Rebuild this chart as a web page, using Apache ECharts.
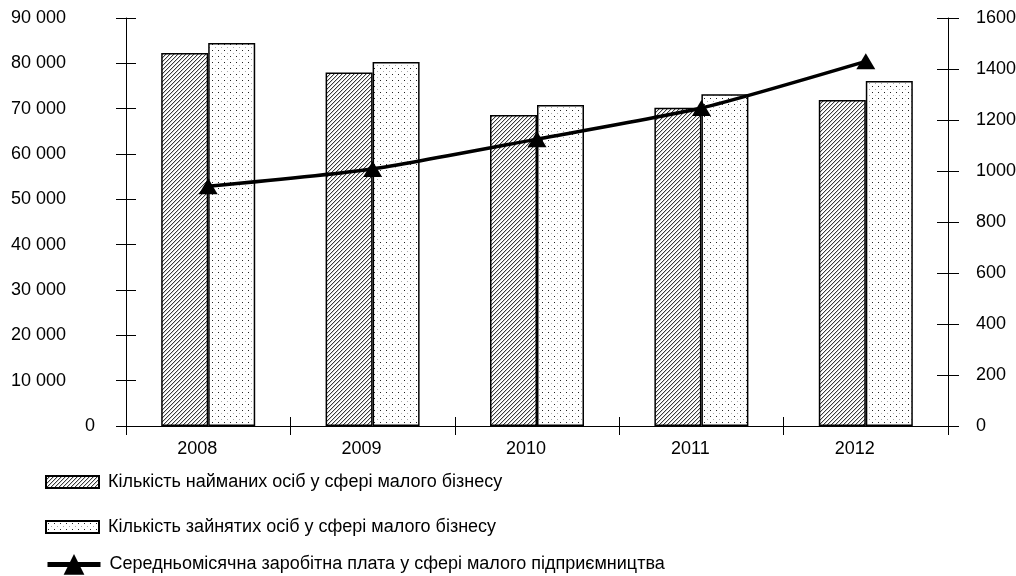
<!DOCTYPE html>
<html>
<head>
<meta charset="utf-8">
<script src="https://cdn.jsdelivr.net/npm/echarts@6/dist/echarts.min.js"></script>
<style>
html,body{margin:0;padding:0;background:#fff;}
#c{width:1016px;height:576px;}
</style>
</head>
<body>
<div id="c"></div>
<script>
// ---- data ----
const years = ['2008', '2009', '2010', '2011', '2012'];
const hiredName = 'Кількість найманих осіб у сфері малого бізнесу';
const employedName = 'Кількість зайнятих осіб у сфері малого бізнесу';
const wageName = 'Середньомісячна заробітна плата у сфері малого підприємництва';
const hired = [82300, 78000, 68600, 70200, 71900];
const employed = [84500, 80300, 70800, 73200, 76100];
const wage = [940, 1008, 1125, 1247, 1430];

// ---- patterns ----
function hatchPattern() {
  const n = 4;
  const c = document.createElement('canvas');
  c.width = n; c.height = n;
  const g = c.getContext('2d');
  g.fillStyle = '#fff'; g.fillRect(0, 0, n, n);
  for (let i = 0; i < n; i++) {
    g.fillStyle = '#3a3a3a'; g.fillRect(i, n - 1 - i, 1, 1);
    g.fillStyle = '#cfcfcf'; g.fillRect(i, (n - i) % n, 1, 1);
  }
  return { image: c, repeat: 'repeat' };
}
function dotPattern() {
  const c = document.createElement('canvas');
  c.width = 6; c.height = 6;
  const g = c.getContext('2d');
  g.fillStyle = '#fff'; g.fillRect(0, 0, 6, 6);
  g.fillStyle = '#222'; g.fillRect(2, 2, 1, 1);
  g.fillStyle = '#aaa'; g.fillRect(5, 5, 1, 1);
  return { image: c, repeat: 'repeat' };
}

const font = 'Liberation Sans, Arial, sans-serif';
const fmt = v => v === 0 ? '' : String(v).replace(/\B(?=(\d{3})+(?!\d))/g, ' ');
const legendText = { fontSize: 18, color: '#000', fontFamily: font, padding: [0, 0, 0, 4] };

const chart = echarts.init(document.getElementById('c'), null, { renderer: 'canvas' });
chart.setOption({
  animation: false,
  backgroundColor: '#fff',
  textStyle: { fontFamily: font, color: '#000' },
  grid: { left: 126, right: 68, top: 18, bottom: 150, containLabel: false, outerBoundsMode: 'none' },
  legend: [
    {
      data: [{ name: hiredName, icon: 'rect' }], left: 40, top: 468, itemWidth: 53, itemHeight: 12,
      textStyle: legendText, selectedMode: false
    },
    {
      data: [{ name: employedName, icon: 'rect' }], left: 40, top: 513, itemWidth: 53, itemHeight: 12,
      textStyle: legendText, selectedMode: false
    },
    {
      data: [{ name: wageName }], left: 40, top: 549, itemWidth: 53, itemHeight: 26,
      textStyle: legendText, selectedMode: false,
      lineStyle: { width: 5 }
    }
  ],
  xAxis: [
    {
      type: 'category', data: years, position: 'bottom',
      axisLine: { onZero: false, lineStyle: { color: '#000', width: 1 } },
      axisTick: { show: true, length: 9, lineStyle: { color: '#000' } },
      axisLabel: { fontSize: 18, color: '#000', fontFamily: font, margin: 14, padding: [0, 22, 0, 0] },
      splitLine: { show: false }
    },
    {
      type: 'category', data: years, position: 'bottom',
      axisLine: { show: false, onZero: false },
      axisTick: { show: true, inside: true, length: 9, lineStyle: { color: '#000' } },
      axisLabel: { show: false }, splitLine: { show: false }
    }
  ],
  yAxis: [
    {
      type: 'value', position: 'left', min: 0, max: 90000, interval: 10000,
      axisLine: { show: true, lineStyle: { color: '#000' } },
      axisTick: { show: true, length: 10, lineStyle: { color: '#000' } },
      axisLabel: { fontSize: 18, color: '#000', fontFamily: font, margin: 60, formatter: fmt },
      splitLine: { show: false }
    },
    {
      type: 'value', position: 'right', min: 0, max: 1600, interval: 200,
      axisLine: { show: true, lineStyle: { color: '#000' } },
      axisTick: { show: true, length: 11, lineStyle: { color: '#000' } },
      axisLabel: { fontSize: 18, color: '#000', fontFamily: font, margin: 28, formatter: v => String(v) },
      splitLine: { show: false }
    },
    {
      type: 'value', position: 'left', min: 0, max: 90000, interval: 10000,
      axisLine: { show: false },
      axisTick: { show: true, inside: true, length: 10, lineStyle: { color: '#000' } },
      axisLabel: { fontSize: 18, color: '#000', fontFamily: font, margin: 31, formatter: v => v === 0 ? '0' : '' },
      splitLine: { show: false }
    },
    {
      type: 'value', position: 'right', min: 0, max: 1600, interval: 200,
      axisLine: { show: false },
      axisTick: { show: true, inside: true, length: 11, lineStyle: { color: '#000' } },
      axisLabel: { show: false }, splitLine: { show: false }
    }
  ],
  series: [
    {
      name: hiredName, type: 'bar', data: hired, barWidth: 47, barGap: '0%',
      itemStyle: { color: hatchPattern(), borderColor: '#000', borderWidth: 1.5 }
    },
    {
      name: employedName, type: 'bar', data: employed, barWidth: 47, barGap: '0%',
      itemStyle: { color: dotPattern(), borderColor: '#000', borderWidth: 1.5 }
    },
    {
      name: wageName, type: 'line', yAxisIndex: 1, data: wage, smooth: 0.2,
      symbol: 'triangle', symbolSize: [19, 16],
      lineStyle: { color: '#000', width: 3.5 },
      itemStyle: { color: '#000' }, z: 5
    }
  ]
});
</script>
</body>
</html>
